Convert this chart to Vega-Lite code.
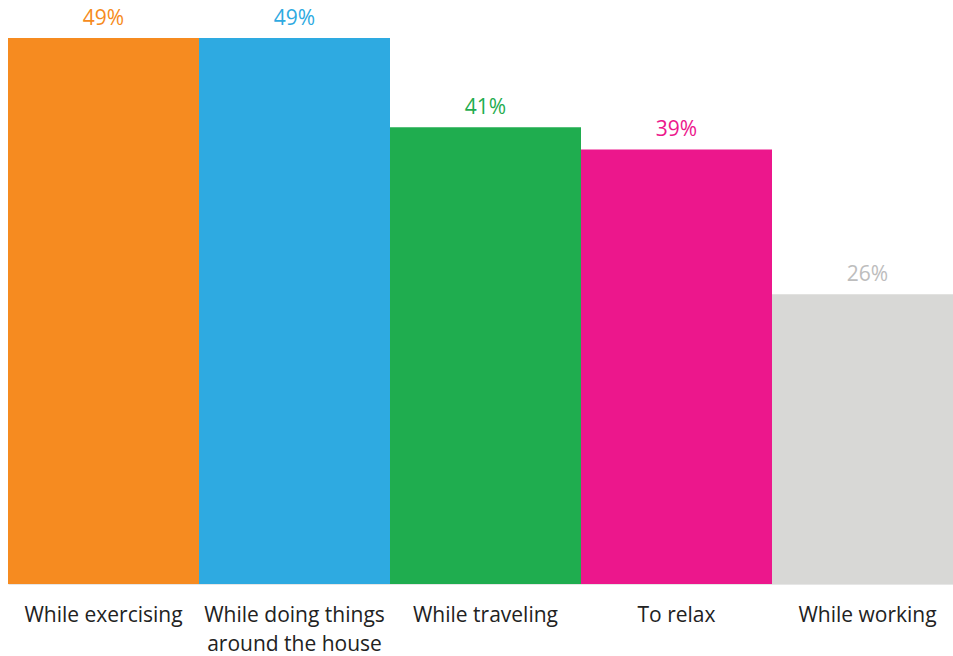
{
  "$schema": "https://vega.github.io/schema/vega-lite/v6.json",
  "autosize": {"type": "none"},
  "padding": {"top": 38, "left": 8, "right": 0, "bottom": 72},
  "width": 955,
  "height": 546,
  "background": "white",
  "config": {"view": {"stroke": null}, "font": "Open Sans"},
  "data": {"values": [
    {"activity": "While exercising", "pct": 49, "label": "49%", "color": "#F68B20", "labelColor": "#F68B20"},
    {"activity": "While doing things around the house", "pct": 49, "label": "49%", "color": "#2EAAE1", "labelColor": "#2EAAE1"},
    {"activity": "While traveling", "pct": 41, "label": "41%", "color": "#1FAD4F", "labelColor": "#1FAD4F"},
    {"activity": "To relax", "pct": 39, "label": "39%", "color": "#EC178C", "labelColor": "#EC178C"},
    {"activity": "While working", "pct": 26, "label": "26%", "color": "#D8D8D6", "labelColor": "#BDBDBD"}
  ]},
  "encoding": {
    "x": {"field": "activity", "type": "nominal", "sort": null,
      "scale": {"paddingInner": 0, "paddingOuter": 0},
      "axis": {"title": null, "ticks": false, "domain": true, "domainColor": "#E6E6E6", "domainWidth": 1,
        "labelAngle": 0, "labelFontSize": 21, "labelColor": "#222222", "labelPadding": 20,
        "labelLineHeight": 29, "labelFont": "Open Sans", "labelLimit": 0,
        "labelExpr": "datum.value == 'While doing things around the house' ? ['While doing things', 'around the house'] : datum.label"}},
    "y": {"field": "pct", "type": "quantitative", "scale": {"domain": [0, 49], "nice": false}, "axis": null}
  },
  "layer": [
    {"mark": {"type": "bar"}, "encoding": {"color": {"field": "color", "type": "nominal", "scale": null}}},
    {"mark": {"type": "text", "dy": -13, "fontSize": 21, "baseline": "alphabetic"},
     "encoding": {"text": {"field": "label"}, "color": {"field": "labelColor", "type": "nominal", "scale": null}}}
  ]
}
